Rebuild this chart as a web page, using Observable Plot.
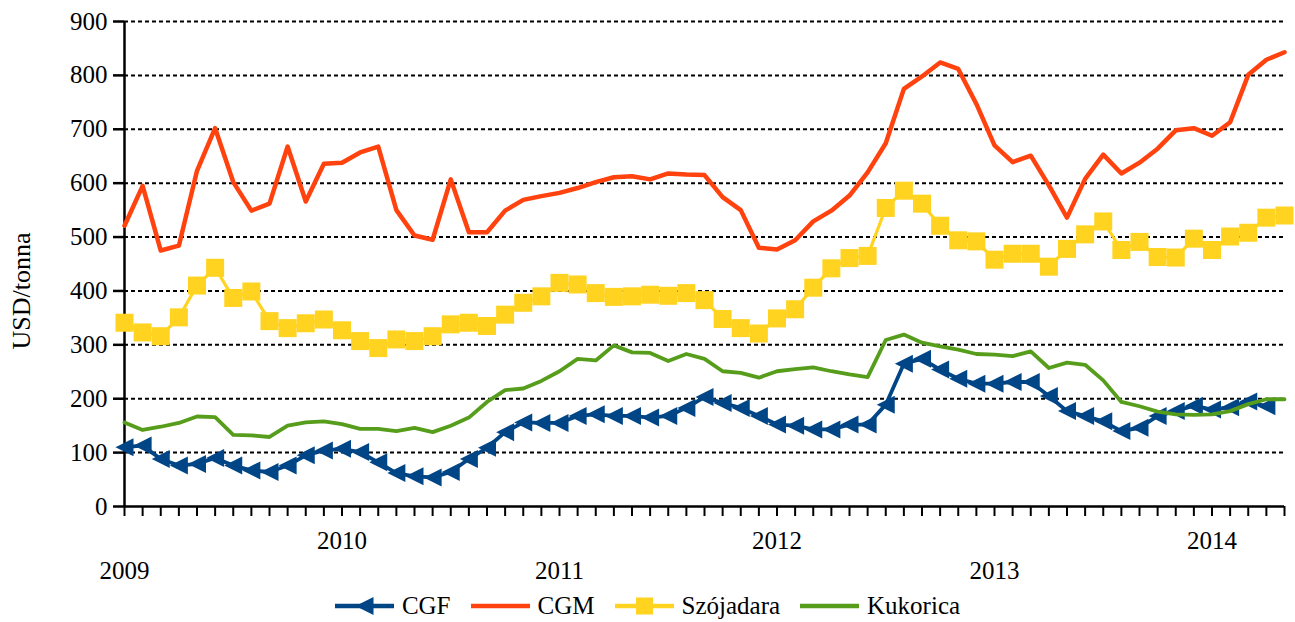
<!DOCTYPE html>
<html>
<head>
<meta charset="utf-8">
<script src="https://cdn.jsdelivr.net/npm/d3@7"></script>
<script src="https://cdn.jsdelivr.net/npm/@observablehq/plot@0.6"></script>
</head>
<body style="margin:0;padding:0;background:#fff;width:1295px;height:622px;overflow:hidden;font-family:'Liberation Serif';">
<div id="chart"></div>
<div id="legend" style="display:flex;justify-content:center;align-items:center;height:32px;font-size:25px;color:#000;font-family:'Liberation Serif';"></div>
<script>
// Monthly data, Jan 2009 .. May 2014 (65 months)
const years = [2009, 2010, 2011, 2012, 2013, 2014];
const yTicks = [0, 100, 200, 300, 400, 500, 600, 700, 800, 900];
const seriesNames = ["CGF", "CGM", "Szójadara", "Kukorica"];
const seriesColors = ["#004586", "#ff420e", "#ffd320", "#579d1c"];

const cgf = [110,113,88,76,79,90,76,67,64,76, 95,104,107,101,82,62,56,54,64,88,
             109,138,156,155,155,168,171,168,168,165, 168,183,203,192,183,168,152,150,143,143,
             152,152,189,265,274,254,237,228,228,231, 231,205,177,168,158,140,146,168,177,187,
             180,184,195,186,null];
const cgm = [521,595,475,484,623,702,602,549,562,668, 566,636,638,657,668,550,503,495,607,509,
             509,549,569,576,582,591,602,611,613,607, 618,616,615,574,550,480,477,494,529,549,
             577,620,674,775,798,824,812,747,670,639, 651,596,536,608,653,618,638,664,698,702,
             688,713,801,829,843];
const szoja = [341,323,316,351,410,443,387,399,344,331, 340,347,327,307,294,310,307,316,338,341,
               335,356,378,390,415,412,396,389,390,393, 391,396,383,348,331,321,349,366,406,442,
               461,465,554,586,562,521,494,492,458,469, 469,445,478,505,529,476,491,463,462,497,
               476,501,508,536,540];
const kukorica = [156,142,148,155,167,166,133,132,129,150, 156,158,153,144,144,140,146,138,150,165,
                  194,216,219,233,251,274,271,299,286,285, 270,283,274,251,248,239,251,255,258,251,
                  245,240,309,319,304,297,291,283,282,279, 288,257,267,263,234,194,186,176,171,170,
                  171,177,190,199,199];

const months = d3.range(cgm.length); // month index from Jan 2009

const toRows = (vals) => months.map(i => ({i, v: vals[i]}));
const rowsCGF = toRows(cgf), rowsCGM = toRows(cgm), rowsSz = toRows(szoja), rowsKu = toRows(kukorica);

// custom marker symbols (size = pi r^2)
const triLeft = { draw(ctx, size) { const h = Math.sqrt(size / Math.PI);
  ctx.moveTo(-h, 0); ctx.lineTo(h, -h); ctx.lineTo(h, h); ctx.closePath(); } };
const square = { draw(ctx, size) { const h = Math.sqrt(size / Math.PI);
  ctx.moveTo(-h, -h); ctx.lineTo(h, -h); ctx.lineTo(h, h); ctx.lineTo(-h, h); ctx.closePath(); } };

const FONT = "Liberation Serif";

const chart = Plot.plot({
  width: 1295,
  height: 590,
  marginLeft: 124,
  marginRight: 11,
  marginTop: 21,
  marginBottom: 84,
  style: { fontFamily: FONT, fontSize: "25px", color: "#000", background: "#fff" },
  x: { type: "linear", domain: [0, months.length - 1] },
  y: { domain: [0, 900] },
  marks: [
    Plot.gridY(yTicks.filter(d => d > 0), { stroke: "#000", strokeOpacity: 1, strokeWidth: 2, strokeDasharray: "4,3" }),
    Plot.axisY({ ticks: yTicks, tickSize: 11, tickPadding: 6, strokeWidth: 2.5, fontSize: 25, label: null }),
    Plot.axisX({ ticks: months, tickSize: 10, strokeWidth: 2, tickFormat: () => "", label: null }),
    Plot.axisX({ ticks: [12, 36, 60], tickSize: 0, tickPadding: 25, fontSize: 25, tickFormat: d => String(years[d / 12]), label: null }),
    Plot.axisX({ ticks: [0, 24, 48], tickSize: 0, tickPadding: 55, fontSize: 25, tickFormat: d => String(years[d / 12]), label: null }),
    Plot.text(["USD/tonna"], { frameAnchor: "left", text: d => d, rotate: -90, dx: -103, dy: 27, fontSize: 26, textAnchor: "middle", lineAnchor: "middle", fill: "#000" }),
    Plot.ruleX([0], { stroke: "#000", strokeWidth: 2.5 }),
    Plot.ruleY([0], { stroke: "#000", strokeWidth: 2.5 }),
    // CGF
    Plot.line(rowsCGF, { x: "i", y: "v", stroke: seriesColors[0], strokeWidth: 3.8, strokeLinejoin: "round" }),
    Plot.dot(rowsCGF, { x: "i", y: "v", symbol: triLeft, r: 9, fill: seriesColors[0], stroke: "none" }),
    // CGM
    Plot.line(rowsCGM, { x: "i", y: "v", stroke: seriesColors[1], strokeWidth: 4.5, strokeLinejoin: "round" }),
    // Szójadara
    Plot.line(rowsSz, { x: "i", y: "v", stroke: seriesColors[2], strokeWidth: 3.2, strokeLinejoin: "round" }),
    Plot.dot(rowsSz, { x: "i", y: "v", symbol: square, r: 9, fill: seriesColors[2], stroke: "none" }),
    // Kukorica
    Plot.line(rowsKu, { x: "i", y: "v", stroke: seriesColors[3], strokeWidth: 3.8, strokeLinejoin: "round" })
  ]
});
document.getElementById("chart").appendChild(chart);

// legend
const legend = document.getElementById("legend");
const markerOf = ["tri", null, "square", null];
seriesNames.forEach((name, k) => {
  const item = document.createElement("div");
  item.style.cssText = "display:flex;align-items:center;margin:0 10px;";
  const c = seriesColors[k];
  let marker = "";
  if (markerOf[k] === "tri") marker = `<path d="M20.5,10 L38.5,1 L38.5,19 Z" fill="${c}"/>`;
  if (markerOf[k] === "square") marker = `<rect x="21" y="1.5" width="17" height="17" fill="${c}"/>`;
  item.innerHTML = `<svg width="59" height="20" viewBox="0 0 59 20" style="margin-right:8px"><line x1="0" y1="10" x2="59" y2="10" stroke="${c}" stroke-width="4.5"/>${marker}</svg><span>${name}</span>`;
  legend.appendChild(item);
});
</script>
</body>
</html>
